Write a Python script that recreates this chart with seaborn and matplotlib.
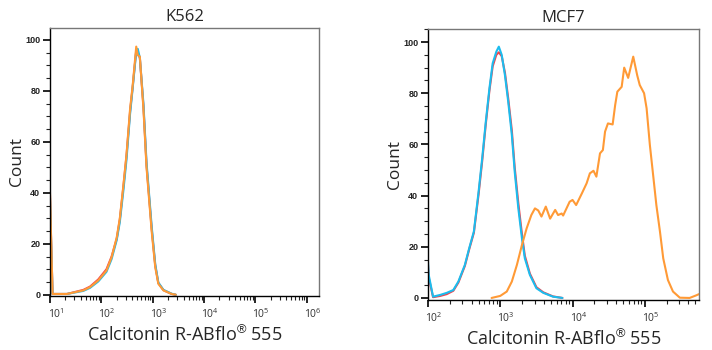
import numpy as np
import pandas as pd
import matplotlib
matplotlib.use('Agg')
import matplotlib.pyplot as plt
import matplotlib.ticker as mticker
import matplotlib.transforms as mtrans
import seaborn as sns

# K562 panel: log10 of intensity and counts for the three overlaid histograms
k562_log_x = [1.0, 1.012, 1.05, 1.33, 1.65, 1.78, 1.94, 2.10, 2.20, 2.30, 2.36, 2.43, 2.49,
              2.56, 2.61, 2.68, 2.71, 2.75, 2.82, 2.88, 2.98, 3.05, 3.11, 3.21, 3.37, 3.45]
k562_red = [39, 29, 0.3, 0.3, 1.9, 3.2, 6.0, 10, 15, 22, 29.5, 42.5, 54.5,
            72, 81.5, 96, 95, 93, 74, 51, 26, 11.5, 4.6, 1.8, 0.3, 0]
k562_cyan = [38, 28, 0.3, 0.3, 1.5, 2.7, 5.2, 9.0, 14.0, 21.5, 28.5, 41, 53,
             71, 81, 95.5, 96.5, 93, 75, 52, 27, 12, 4.8, 1.9, 0.4, 0]
k562_orange = [40, 30, 0.3, 0.3, 1.7, 3.0, 5.6, 9.5, 14.7, 22.5, 30, 43, 55,
               73, 82, 97.4, 94, 93.5, 73, 50, 25, 10.8, 4.3, 1.7, 0.3, 0]

# MCF7 panel: controls
mcf7_ctrl_log_x = [2.0, 2.01, 2.07, 2.17, 2.26, 2.35, 2.42, 2.51, 2.57, 2.635, 2.70, 2.75, 2.80,
                   2.85, 2.895, 2.945, 2.98, 3.02, 3.065, 3.11, 3.16, 3.20, 3.25, 3.30, 3.34,
                   3.41, 3.50, 3.595, 3.73, 3.86]
mcf7_red = [13, 8, 0.3, 0.8, 1.5, 2.8, 6.0, 12.5, 19, 25.5, 40.5, 53.5, 68,
            81, 90.5, 95, 96, 94.5, 88, 78, 65.5, 51, 37, 25, 16.5,
            9.5, 4.2, 2.2, 0.6, 0]
mcf7_cyan = [14, 9, 0.5, 1.2, 2, 3.1, 6.4, 12.9, 19.4, 26, 41.5, 54.6, 68.9,
             81.9, 91.7, 96.2, 98.2, 95, 87, 76.7, 63.7, 49.3, 35, 23.3, 15.5,
             9, 3.8, 2, 0.5, 0]
# MCF7 panel: stained sample
mcf7_stain_log_x = [2.88, 3.0, 3.09, 3.16, 3.23, 3.30, 3.365, 3.43, 3.48, 3.525, 3.57, 3.63, 3.69,
                    3.76, 3.80, 3.85, 3.87, 3.96, 4.0, 4.05, 4.13, 4.195, 4.24, 4.29, 4.33, 4.38,
                    4.42, 4.45, 4.49, 4.555, 4.59, 4.62, 4.68, 4.715, 4.77, 4.84, 4.895, 4.93,
                    4.99, 5.025, 5.07, 5.12, 5.16, 5.21, 5.255, 5.32, 5.39, 5.485, 5.62, 5.71, 5.75]
mcf7_orange = [0, 0.8, 2.5, 6.4, 12.9, 20.7, 27.2, 32.4, 35, 34.2, 31.8, 35.7, 31,
               34.4, 32.4, 33, 32.2, 37.6, 38.3, 36.3, 40.9, 44.8, 48.7, 49.7, 47.4, 56.5,
               57.8, 65, 68.2, 67.8, 75.4, 80.6, 82.5, 90, 86, 94.3, 87, 83.2,
               80, 74.1, 59.8, 46.8, 36.3, 25.9, 15.5, 7, 2.5, 0.1, 0, 1, 1.5]

titles = ['K562', 'MCF7']
xlabel = 'Calcitonin R-ABflo$^{\u00ae}$ 555'

RED = '#f0444c'
CYAN = '#1cbcee'
ORANGE = '#ff9a36'

sns.set_style('ticks')
plt.rcParams['font.family'] = ['Open Sans', 'DejaVu Sans']
plt.rcParams['mathtext.fontset'] = 'custom'
plt.rcParams['mathtext.rm'] = 'Liberation Sans'
plt.rcParams['mathtext.it'] = 'Liberation Sans:italic'
plt.rcParams['mathtext.bf'] = 'Liberation Sans:bold'

fig = plt.figure(figsize=(7.12, 3.5), dpi=100)
ax1 = fig.add_axes([50/712, 54/350, 269/712, 268/350])
ax2 = fig.add_axes([428/712, 50/350, 271/712, 271/350])


def draw(ax, log_x, y, color):
    d = pd.DataFrame({'x': 10.0 ** np.array(log_x), 'y': y})
    sns.lineplot(data=d, x='x', y='y', ax=ax, color=color, lw=1.5,
                 estimator=None, sort=False)


draw(ax1, k562_log_x, k562_red, RED)
draw(ax1, k562_log_x, k562_cyan, CYAN)
draw(ax1, k562_log_x, k562_orange, ORANGE)

draw(ax2, mcf7_ctrl_log_x, mcf7_red, RED)
draw(ax2, mcf7_ctrl_log_x, mcf7_cyan, CYAN)
draw(ax2, mcf7_stain_log_x, mcf7_orange, ORANGE)

limits = [((10 ** 1.0, 10 ** 6.24), (-0.5, 104.7), range(1, 7)),
          ((10 ** 2.0, 10 ** 5.75), (-0.8, 105.1), range(2, 6))]

for ax, title, (xl, yl, decs) in zip([ax1, ax2], titles, limits):
    ax.set_xscale('log')
    ax.set_xlim(*xl)
    ax.set_ylim(*yl)
    ax.set_title(title, fontsize=12, pad=5)
    ax.set_xlabel(xlabel, fontsize=13, labelpad=3)
    ax.set_ylabel('Count', fontsize=12.5, labelpad=0)
    ax.xaxis.set_major_locator(mticker.FixedLocator([10.0 ** d for d in decs]))
    ax.xaxis.set_major_formatter(mticker.FixedFormatter(
        [r'$\mathregular{10^{%d}}$' % d for d in decs]))
    ax.xaxis.set_minor_locator(mticker.LogLocator(base=10, subs=np.arange(2, 10), numticks=20))
    ax.xaxis.set_minor_formatter(mticker.NullFormatter())
    ax.yaxis.set_major_locator(mticker.MultipleLocator(20))
    ax.yaxis.set_minor_locator(mticker.MultipleLocator(5))
    ax.tick_params(axis='both', which='major', length=5, width=1.2, color='black')
    ax.tick_params(axis='both', which='minor', length=3, width=0.8, color='#222222')
    ax.tick_params(axis='x', which='major', labelsize=7.5, labelcolor='#333333', pad=3)
    ax.tick_params(axis='y', which='major', labelsize=6.5, labelcolor='#222222', pad=2)
    for lab in ax.get_yticklabels():
        lab.set_fontfamily('Liberation Sans')
        lab.set_fontweight('bold')
    offset = mtrans.ScaledTranslation(6 / 100, 0, fig.dpi_scale_trans)
    for lab in ax.get_xticklabels():
        lab.set_transform(lab.get_transform() + offset)
    for side in ['left', 'bottom']:
        ax.spines[side].set_color('black')
        ax.spines[side].set_linewidth(1.0)
    for side in ['top', 'right']:
        ax.spines[side].set_color('#777777')
        ax.spines[side].set_linewidth(1.0)

fig.savefig('out.png', dpi=100)
